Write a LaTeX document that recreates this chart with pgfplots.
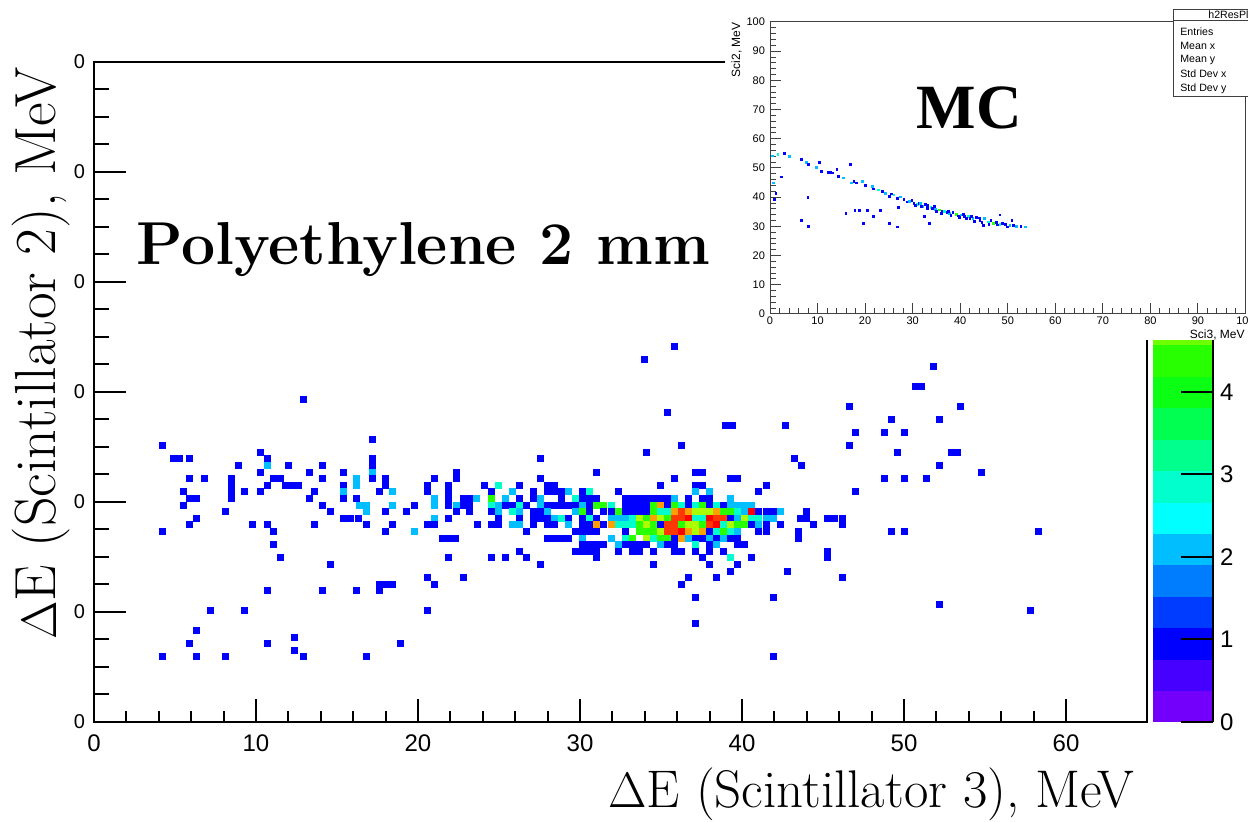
\documentclass[border=0pt]{standalone}
\usepackage{pgfplots}
\pgfplotsset{compat=1.18}
\usepackage{fontspec}
\newfontfamily\lib{Liberation Sans}
\newfontfamily\libserif{Liberation Serif}

% ROOT-like palette, 20 levels over 0..8 (last entry only marks the top end)
\pgfplotsset{
  colormap={rootpal}{
    rgb255=(115,0,250) rgb255=(70,0,255) rgb255=(0,0,255) rgb255=(0,60,255)
    rgb255=(0,125,255) rgb255=(0,190,255) rgb255=(0,255,255) rgb255=(0,255,205)
    rgb255=(0,255,140) rgb255=(0,255,80) rgb255=(10,255,20) rgb255=(40,255,0)
    rgb255=(110,255,0) rgb255=(170,255,0) rgb255=(230,250,0) rgb255=(255,215,0)
    rgb255=(255,160,0) rgb255=(255,110,0) rgb255=(255,55,0) rgb255=(255,0,0)
    rgb255=(255,0,0)
  },
  mainbox/.style={
    at={(47pt,50pt)}, anchor=south west, scale only axis,
    width=526.5pt, height=330pt,
    xmin=0, xmax=65, ymin=0, ymax=60,
    tick align=inside,
    axis line style={black, line width=1pt},
    every tick/.append style={black, line width=1pt},
    /pgf/number format/assume math mode=true,
  },
}

\begin{document}
\begin{tikzpicture}
\path[use as bounding box] (0,0) rectangle (624pt,411pt);
\clip (0,0) rectangle (624pt,411pt);

% ---------- main histogram (data + y ticks + palette) ----------
\begin{axis}[mainbox,
  xtick=\empty,
  ytick={0,10,...,60}, yticklabels={0,0,0,0,0,0,0},
  minor y tick num=3, ytick pos=left,
  major tick length=16pt, minor tick length=7.5pt,
  yticklabel style={font=\lib\fontsize{10}{12}\selectfont, xshift=-1pt},
  colormap name=rootpal, colormap access=piecewise constant,
  point meta min=0, point meta max=8,
  colorbar,
  colorbar style={
    at={(parent axis.south east)}, anchor=south west, xshift=-5.5pt,
    scale only axis, width=30pt, height=330pt,
    ytick={0,1,...,4},
    axis y line*=right, axis x line=none,
    tick align=inside, major tick length=16pt,
    every tick/.append style={black, line width=1pt},
    axis line style={black, line width=1.2pt},
    yticklabel style={font=\lib\fontsize{12}{14}\selectfont, xshift=0pt},
    /pgf/number format/assume math mode=true,
  },
]
\addplot[scatter, only marks, mark=square*, mark size=1.5pt, point meta=explicit,
  mark options={line width=0.4pt},
  scatter/use mapped color={draw=mapped color, fill=mapped color}] coordinates {
(35.8,34.13)[1] (34.0,32.93)[1] (51.8,32.33)[1] (50.7,30.53)[1] (51.1,30.53)[1]
(46.6,28.73)[1] (53.5,28.73)[1] (35.4,28.13)[1] (49.2,27.53)[1] (52.2,27.53)[1]
(12.9,29.33)[1]
(39.0,26.93)[1] (39.4,26.93)[1] (42.7,26.93)[1] (47.0,26.33)[1] (48.8,26.33)[1] (50.0,26.33)[1]
(17.2,25.73)[1]
(4.2,25.13)[1] (36.26,25.13)[1] (46.6,25.13)[1]
(10.3,24.53)[1] (34.08,24.53)[1] (49.6,24.53)[1] (52.9,24.53)[1] (53.3,24.53)[1]
(4.9,23.93)[1] (5.3,23.93)[1] (5.9,23.93)[1] (10.7,23.93)[1] (17.2,23.93)[1] (27.56,23.93)[1] (43.22,23.93)[1]
(8.9,23.33)[1] (10.7,23.33)[2.2] (12.0,23.33)[1] (14.1,23.33)[1] (17.2,23.33)[1] (43.65,23.33)[1] (52.2,23.33)[1]
(10.3,22.73)[1] (13.3,22.73)[1] (15.4,22.73)[1] (17.2,22.73)[2.2] (22.4,22.73)[1] (31.04,22.73)[1] (37.13,22.73)[1] (37.56,22.73)[1] (54.8,22.73)[1]
(5.9,22.13)[1] (6.8,22.13)[1] (8.5,22.13)[1] (11.1,22.13)[1] (11.5,22.13)[1] (14.1,22.13)[1] (16.2,22.13)[2.2] (17.2,22.13)[1] (18.0,22.13)[1] (21.0,22.13)[1] (22.4,22.13)[1] (27.56,22.13)[1] (35.82,22.13)[1] (39.3,22.13)[1] (39.74,22.13)[1] (48.8,22.13)[1] (50.0,22.13)[1] (51.4,22.13)[1]
(8.5,21.53)[1] (10.7,21.53)[1] (11.8,21.53)[1] (12.2,21.53)[1] (12.6,21.53)[1] (15.4,21.53)[1] (16.2,21.53)[2.2] (18.0,21.53)[1] (20.6,21.53)[1] (21.9,21.53)[1] (24.08,21.53)[1] (24.95,21.53)[3] (26.25,21.53)[1] (27.99,21.53)[1] (28.43,21.53)[1] (34.95,21.53)[1] (37.13,21.53)[1] (37.56,21.53)[1] (41.48,21.53)[1]
(5.5,20.93)[1] (8.5,20.93)[1] (9.3,20.93)[1] (10.3,20.93)[1] (13.6,20.93)[1] (15.4,20.93)[2.2] (17.6,20.93)[1] (18.4,20.93)[2.2] (20.6,20.93)[1] (21.9,20.93)[1] (24.51,20.93)[1] (25.82,20.93)[2.2] (27.12,20.93)[1] (27.99,20.93)[1] (28.43,20.93)[1] (28.86,20.93)[1] (29.3,20.93)[2.2] (30.17,20.93)[1] (30.6,20.93)[3] (32.34,20.93)[1] (37.13,20.93)[2.2] (38.0,20.93)[2.2] (41.04,20.93)[1] (47.0,20.93)[1]
(5.9,20.33)[1] (6.3,20.33)[1] (8.5,20.33)[1] (13.3,20.33)[1] (15.4,20.33)[1] (16.2,20.33)[1] (21.0,20.33)[2.2] (21.9,20.33)[1] (22.8,20.33)[1] (23.2,20.33)[1] (23.6,20.33)[2.2] (24.51,20.33)[4.2] (25.38,20.33)[2.2] (26.25,20.33)[1] (27.12,20.33)[1] (27.56,20.33)[2.2] (28.86,20.33)[1] (29.73,20.33)[3] (30.17,20.33)[1] (30.6,20.33)[1] (31.04,20.33)[1] (32.78,20.33)[1] (33.21,20.33)[1] (33.65,20.33)[1] (34.08,20.33)[1] (34.52,20.33)[1] (34.95,20.33)[1] (35.39,20.33)[1] (35.82,20.33)[2.2] (36.69,20.33)[1] (37.56,20.33)[1] (38.0,20.33)[1] (39.3,20.33)[2.2]
(5.5,19.73)[1] (14.1,19.73)[1] (16.4,19.73)[2.2] (16.8,19.73)[2.2] (18.4,19.73)[2.2] (19.8,19.73)[1] (21.0,19.73)[2.2] (21.9,19.73)[1] (22.4,19.73)[2.2] (22.8,19.73)[1] (23.2,19.73)[1] (24.51,19.73)[3] (24.95,19.73)[2.2] (25.38,19.73)[1] (25.82,19.73)[1] (26.25,19.73)[3] (26.69,19.73)[1] (27.56,19.73)[2.2] (27.99,19.73)[1] (28.43,19.73)[1] (28.86,19.73)[1] (29.3,19.73)[1] (29.73,19.73)[1] (30.17,19.73)[2.2] (30.6,19.73)[1] (31.04,19.73)[4.2] (31.47,19.73)[4.2] (31.91,19.73)[3] (32.78,19.73)[1] (33.21,19.73)[1] (33.65,19.73)[1] (34.08,19.73)[1] (34.52,19.73)[4.2] (34.95,19.73)[6.2] (35.39,19.73)[1] (35.82,19.73)[4.2] (36.26,19.73)[3] (36.69,19.73)[1] (37.13,19.73)[3] (37.56,19.73)[4.2] (38.0,19.73)[1] (38.43,19.73)[3] (38.87,19.73)[1] (39.3,19.73)[2.2] (39.74,19.73)[2.2] (40.17,19.73)[2.2] (40.61,19.73)[2.2]
(8.1,19.13)[1] (14.6,19.13)[1] (16.8,19.13)[2.2] (18.0,19.13)[1] (19.3,19.13)[1] (22.4,19.13)[1] (23.2,19.13)[1] (24.51,19.13)[1] (24.95,19.13)[2.2] (25.82,19.13)[3] (26.25,19.13)[2.2] (27.12,19.13)[1] (27.56,19.13)[1] (27.99,19.13)[2.2] (29.73,19.13)[2.2] (30.17,19.13)[4.2] (30.6,19.13)[1] (31.47,19.13)[1] (31.91,19.13)[1] (32.34,19.13)[4.2] (32.78,19.13)[1] (33.21,19.13)[1] (33.65,19.13)[1] (34.08,19.13)[1] (34.52,19.13)[4.2] (34.95,19.13)[3] (35.39,19.13)[3] (35.82,19.13)[6.2] (36.26,19.13)[7] (36.69,19.13)[6.2] (37.13,19.13)[5] (37.56,19.13)[5] (38.0,19.13)[5] (38.43,19.13)[6.2] (38.87,19.13)[4.2] (39.3,19.13)[4.2] (39.74,19.13)[3] (40.17,19.13)[2.2] (40.61,19.13)[7.8] (41.04,19.13)[1] (41.48,19.13)[1] (41.91,19.13)[1] (42.35,19.13)[2.2] (44.0,19.13)[1]
(6.3,18.53)[1] (15.4,18.53)[1] (15.8,18.53)[1] (16.3,18.53)[1] (21.0,18.53)[2.2] (21.9,18.53)[1] (24.95,18.53)[1] (26.25,18.53)[1] (27.12,18.53)[1] (27.56,18.53)[1] (27.99,18.53)[1] (28.43,18.53)[2.2] (28.86,18.53)[3] (29.3,18.53)[1] (30.17,18.53)[1] (30.6,18.53)[3] (31.04,18.53)[1] (31.91,18.53)[2.2] (32.34,18.53)[2.2] (32.78,18.53)[2.2] (33.21,18.53)[3] (33.65,18.53)[5] (34.08,18.53)[4.2] (34.52,18.53)[6.2] (34.95,18.53)[5] (35.39,18.53)[4.2] (35.82,18.53)[7] (36.26,18.53)[7] (36.69,18.53)[7.8] (37.13,18.53)[3] (37.56,18.53)[3] (38.0,18.53)[7.8] (38.43,18.53)[7] (38.87,18.53)[7] (39.3,18.53)[1] (39.74,18.53)[2.2] (40.17,18.53)[5] (40.61,18.53)[3] (41.04,18.53)[3] (41.48,18.53)[2.2] (41.91,18.53)[2.2] (43.6,18.53)[1] (44.0,18.53)[1] (45.3,18.53)[1] (45.7,18.53)[1] (46.2,18.53)[1]
(5.9,17.93)[1] (9.8,17.93)[1] (10.7,17.93)[1] (13.6,17.93)[1] (16.8,17.93)[1] (18.4,17.93)[1] (20.6,17.93)[1] (21.0,17.93)[1] (23.64,17.93)[1] (24.51,17.93)[1] (24.95,17.93)[1] (25.82,17.93)[2.2] (26.25,17.93)[2.2] (27.12,17.93)[1] (27.99,17.93)[1] (28.43,17.93)[1] (29.3,17.93)[2.2] (30.17,17.93)[1] (30.6,17.93)[1] (31.04,17.93)[6.2] (31.47,17.93)[1] (31.91,17.93)[6.2] (32.34,17.93)[3] (32.78,17.93)[3] (33.21,17.93)[3] (33.65,17.93)[4.2] (34.08,17.93)[5] (34.52,17.93)[4.2] (34.95,17.93)[1] (35.39,17.93)[7] (35.82,17.93)[7] (36.26,17.93)[4.2] (36.69,17.93)[5] (37.13,17.93)[5] (37.56,17.93)[4.2] (38.0,17.93)[7] (38.43,17.93)[7.8] (38.87,17.93)[3] (39.3,17.93)[5] (39.74,17.93)[4.2] (40.17,17.93)[4.2] (40.61,17.93)[1] (41.04,17.93)[2.2] (41.48,17.93)[1] (42.35,17.93)[1] (44.4,17.93)[1] (46.2,17.93)[1]
(4.2,17.33)[1] (11.1,17.33)[1] (18.0,17.33)[1] (19.8,17.33)[2.2] (26.69,17.33)[1] (29.73,17.33)[1] (30.17,17.33)[1] (30.6,17.33)[1] (31.04,17.33)[1] (32.78,17.33)[1] (33.65,17.33)[4.2] (34.08,17.33)[4.2] (34.52,17.33)[4.2] (34.95,17.33)[5] (35.39,17.33)[7] (35.82,17.33)[7] (36.26,17.33)[7.8] (36.69,17.33)[6.2] (37.13,17.33)[5] (37.56,17.33)[6.2] (38.0,17.33)[1] (38.43,17.33)[3] (38.87,17.33)[4.2] (39.3,17.33)[3] (39.74,17.33)[2.2] (41.04,17.33)[1] (41.48,17.33)[1] (43.5,17.33)[1] (49.2,17.33)[1] (50.0,17.33)[1] (58.3,17.33)[1]
(21.5,16.73)[1] (21.9,16.73)[1] (22.3,16.73)[1] (27.99,16.73)[1] (28.43,16.73)[1] (28.86,16.73)[1] (29.3,16.73)[1] (30.17,16.73)[2.2] (31.91,16.73)[2.2] (32.78,16.73)[3] (33.21,16.73)[4.2] (34.08,16.73)[5] (34.52,16.73)[3] (34.95,16.73)[4.2] (35.39,16.73)[4.2] (35.82,16.73)[1] (36.26,16.73)[6.2] (36.69,16.73)[2.2] (37.13,16.73)[1] (37.56,16.73)[1] (38.0,16.73)[2.2] (38.43,16.73)[1] (38.87,16.73)[2.2] (39.3,16.73)[1] (39.74,16.73)[1] (43.5,16.73)[1]
(11.1,16.13)[1] (30.17,16.13)[1] (30.6,16.13)[1] (31.04,16.13)[1] (31.47,16.13)[1] (32.34,16.13)[2.2] (32.78,16.13)[1] (33.21,16.13)[1] (33.65,16.13)[1] (34.08,16.13)[1] (34.95,16.13)[2.2] (35.39,16.13)[1] (35.82,16.13)[1] (37.13,16.13)[3] (38.0,16.13)[1] (38.43,16.13)[2.2] (39.74,16.13)[1] (40.17,16.13)[1]
(26.25,15.53)[1] (29.73,15.53)[1] (30.17,15.53)[1] (30.6,15.53)[1] (31.04,15.53)[1] (32.34,15.53)[1] (33.21,15.53)[1] (33.65,15.53)[1] (34.52,15.53)[1] (35.82,15.53)[1] (36.26,15.53)[1] (37.13,15.53)[1] (38.0,15.53)[1] (38.87,15.53)[1] (45.3,15.53)[1]
(11.5,14.93)[1] (21.9,14.93)[1] (24.51,14.93)[1] (25.38,14.93)[1] (26.69,14.93)[1] (31.04,14.93)[1] (37.56,14.93)[1] (39.3,14.93)[3] (40.61,14.93)[1] (45.3,14.93)[1]
(14.6,14.33)[1] (27.56,14.33)[1] (34.52,14.33)[1] (38.0,14.33)[1] (39.74,14.33)[1]
(39.3,13.73)[1] (42.78,13.73)[1]
(20.6,13.13)[1] (22.8,13.13)[1] (36.69,13.13)[1] (38.43,13.13)[1] (46.2,13.13)[1]
(17.6,12.53)[1] (18.0,12.53)[1] (18.4,12.53)[1] (21.0,12.53)[1] (36.26,12.53)[1]
(10.7,11.93)[1] (14.1,11.93)[1] (16.2,11.93)[1] (17.6,11.93)[1]
(37.13,11.33)[1] (41.91,11.33)[1]
(52.2,10.73)[1]
(7.2,10.13)[1] (9.3,10.13)[1] (20.6,10.13)[1] (57.8,10.13)[1]
(37.13,8.93)[1] (6.3,8.33)[1] (12.4,7.73)[1]
(5.9,7.13)[1] (10.7,7.13)[1] (18.9,7.13)[1] (12.4,6.53)[1]
(4.2,5.93)[1] (6.3,5.93)[1] (8.1,5.93)[1] (12.9,5.93)[1] (16.8,5.93)[1] (41.91,5.93)[1]
};
\end{axis}

% ---------- main x ticks (shorter ticks than on y) ----------
\begin{axis}[mainbox, hide y axis,
  xtick={0,10,...,60}, minor x tick num=4, xtick pos=bottom,
  major tick length=11.5pt, minor tick length=5.5pt,
  xticklabel style={font=\lib\fontsize{12}{14}\selectfont, yshift=-3pt},
]
\end{axis}

% white pad of the inset
\fill[white] (362.5pt,241pt) rectangle (624pt,411pt);

% ---------- MC inset ----------
\begin{axis}[at={(385pt,254pt)}, anchor=south west, scale only axis,
  width=237.75pt, height=146pt,
  xmin=0, xmax=100, ymin=0, ymax=100,
  xtick={0,10,...,100}, ytick={0,10,...,100}, minor tick num=4,
  xtick pos=bottom, ytick pos=left, tick align=inside,
  major tick length=5.5pt, minor tick length=2.8pt,
  axis line style={black!75, line width=0.5pt},
  every tick/.append style={black!75, line width=0.5pt},
  tick label style={font=\lib\fontsize{5.5}{6.5}\selectfont},
  xticklabel style={yshift=2pt}, yticklabel style={xshift=1pt},
  /pgf/number format/assume math mode=true,
  colormap name=rootpal, colormap access=piecewise constant,
  point meta min=0, point meta max=8,
]
\addplot[scatter, only marks, mark=square*, mark size=0.45pt, point meta=explicit,
  mark options={line width=0.15pt},
  scatter/use mapped color={draw=mapped color, fill=mapped color}] coordinates {
(0.5,54.2)[2.2] (1.6,54.8)[3] (3.0,55.2)[1] (4.0,54.0)[2.2] (0.7,45.0)[2.2] (2.3,47.0)[1]
(1.2,41.3)[1] (0.8,39.2)[1] (6.5,53.1)[1] (7.6,51.9)[2.2] (8.1,51.3)[1] (10.4,52.1)[1]
(9.7,50.2)[2.2] (10.8,49.0)[1] (12.2,48.7)[1] (12.7,48.7)[1] (13.1,48.4)[1] (14.0,49.6)[1]
(14.3,47.3)[1] (15.4,46.7)[2.2] (16.8,51.3)[1] (17.1,45.0)[2.2] (17.6,45.6)[1] (18.2,45.0)[1]
(19.3,45.5)[2.2] (20.0,44.0)[1] (21.4,43.8)[2.2] (21.7,42.9)[1] (22.8,42.6)[3] (23.5,42.0)[1]
(24.2,41.5)[2.2] (25.0,40.3)[1] (25.5,41.2)[1] (26.0,40.9)[3] (26.7,39.7)[1] (27.4,40.2)[2.2]
(28.1,39.2)[1] (28.8,38.5)[1] (29.2,38.6)[2.2] (29.8,38.9)[1] (30.2,38.0)[1] (30.9,37.5)[3]
(31.3,38.0)[1] (32.0,36.8)[2.2] (32.6,37.6)[1] (33.1,37.4)[1] (33.8,36.5)[3] (34.1,36.3)[1]
(34.8,36.0)[2.2] (35.6,35.7)[4.2] (36.2,35.2)[1] (36.6,35.1)[3] (37.2,34.8)[1] (37.7,34.5)[2.2]
(38.4,34.9)[1] (39.1,34.3)[4.2] (39.6,33.7)[1] (40.2,34.0)[2.2] (40.9,33.5)[1] (41.6,33.4)[3]
(42.0,32.8)[1] (42.6,32.8)[2.2] (43.3,33.2)[1] (44.1,32.2)[1] (44.8,30.5)[1] (45.1,32.8)[2.2]
(45.8,31.6)[3] (46.4,32.0)[1] (46.9,31.1)[4.2] (47.5,31.4)[1] (48.3,30.8)[3] (48.3,34.0)[1]
(48.9,31.2)[1] (49.4,30.8)[1] (50.4,30.5)[2.2] (50.8,32.2)[1] (51.2,30.4)[1] (51.8,30.1)[2.2]
(52.7,30.2)[1] (53.6,29.9)[2.2]
(6.5,32.0)[1] (8.1,30.1)[1] (7.9,40.1)[1] (15.9,34.5)[1] (17.8,35.5)[1] (18.8,35.5)[1]
(19.6,31.1)[1] (20.5,35.5)[1] (21.7,33.6)[1] (23.2,35.5)[1] (25.0,31.1)[1] (26.7,29.9)[1]
(26.9,36.6)[1] (32.4,33.6)[1] (33.5,31.1)[1]
(30.5,37.3)[1] (31.8,36.9)[1] (33.0,36.2)[1] (35.0,35.3)[1] (36.0,34.6)[1] (38.0,33.9)[1]
(39.8,33.1)[1] (41.2,32.7)[1] (43.0,31.9)[1] (44.5,31.5)[1] (46.0,30.9)[1] (47.8,30.6)[1]
(49.8,29.9)[1] (31.5,37.9)[2.2] (34.5,36.9)[1] (37.5,35.3)[1] (40.6,34.2)[1] (42.3,33.6)[1]
(44.0,33.0)[1]
};
\end{axis}
\node[anchor=base east, rotate=90, inner sep=0, font=\lib\fontsize{6}{7}\selectfont] at (370pt,400pt) {Sci2, MeV};
\node[anchor=base east, inner sep=0, font=\lib\fontsize{6}{7}\selectfont] at (622.5pt,241.5pt) {Sci3, MeV};

% statistics box, cut by the picture edge
\draw[black!75, line width=0.5pt, fill=white] (586.5pt,362.6pt) rectangle (640pt,406.3pt);
\draw[black!75, line width=0.5pt] (586.5pt,400.5pt) -- (640pt,400.5pt);
\begin{scope}[every node/.style={anchor=base west, inner sep=0, font=\lib\fontsize{5.3}{6}\selectfont}]
\node at (604pt,401.8pt) {h2ResPla};
\node at (590pt,393.2pt) {Entries};
\node at (590pt,386.2pt) {Mean x};
\node at (590pt,379.5pt) {Mean y};
\node at (590pt,372pt) {Std Dev x};
\node at (590pt,365.4pt) {Std Dev y};
\end{scope}

% ---------- labels ----------
\node[anchor=base, inner sep=0, font=\libserif\bfseries\fontsize{31.5}{36}\selectfont] at (484.5pt,346.5pt) {MC};
\node[anchor=base west, inner sep=0, font=\fontsize{30.3}{35}\selectfont\bfseries] at (68pt,278.5pt) {Polyethylene 2 mm};
\node[anchor=base west, inner sep=0, font=\fontsize{26.5}{31}\selectfont] at (304pt,7pt) {$\Delta$E (Scintillator 3), MeV};
\node[anchor=base west, inner sep=0, rotate=90, font=\fontsize{29}{34}\selectfont] at (28pt,91pt) {$\Delta$E (Scintillator 2), MeV};
\end{tikzpicture}
\end{document}
